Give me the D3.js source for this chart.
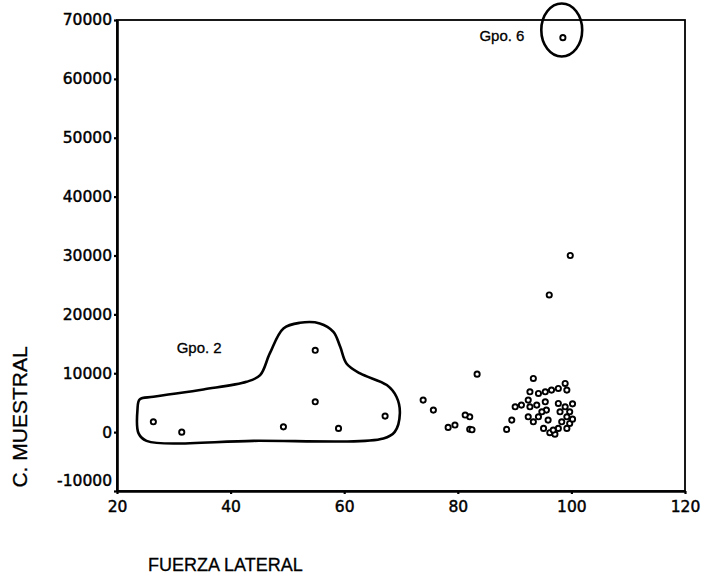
<!DOCTYPE html>
<html><head><meta charset="utf-8">
<script src="https://cdn.jsdelivr.net/npm/d3@7"></script>
<style>
html,body{margin:0;padding:0;background:#fff;}
svg{display:block;}
</style></head>
<body>
<svg id="chart" width="704" height="578"></svg>
<script>
// ---- data ----
const fuerzaLateral = [
  26.4, 31.4, 49.3, 54.9, 54.9, 59.0, 67.2,
  73.9, 75.7, 83.4, 78.3, 79.5, 82.1, 82.1, 81.3, 82.5,
  93.3, 98.9, 88.6, 89.5, 92.4, 93.3, 95.1, 96.2, 97.1, 95.6,
  92.7, 94.2, 95.4, 96.5, 97.7, 99.2, 92.4, 91.2, 90.1, 92.7,
  93.9, 95.4, 97.7, 98.9, 99.7, 98.0, 94.8, 94.2, 95.9, 98.3,
  99.7, 97.7, 99.2, 96.8, 99.2, 100.2, 100.2,
  99.8, 96.1, 98.5
];
const cMuestral = [
  1750, 0, 900, 5150, 13900, 630, 2720,
  5440, 3740, 9850, 800, 1200, 500, 2600, 2900, 400,
  9120, 8270, 460, 2040, 2600, 1750, 630, -100, -340, 3740,
  6850, 6570, 6850, 7140, 7420, 7140, 5440, 4590, 4300, 4300,
  4590, 5150, 4870, 4300, 3450, 3450, 3450, 2600, 2040, 1750,
  1470, 630, 630, 340, 2600, 4800, 2200,
  30000, 23300, 67000
];
const xTicks = [20, 40, 60, 80, 100, 120];
const yTicks = [-10000, 0, 10000, 20000, 30000, 40000, 50000, 60000, 70000];
const xTitle = "FUERZA LATERAL";
const yTitle = "C. MUESTRAL";
// group outlines (data units)
const gpo2Outline = [
  [55.7,18470],[58.1,17040],[59.3,14490],[60.4,11670],[62.8,9970],[67.5,7990],
  [69.2,6000],[69.8,3180],[68.9,50],[66.9,-1070],[44.0,-1480],[25.2,-1480],
  [23.8,-220],[23.6,3740],[24.0,5560],[26.4,6000],[35.2,7250],[42.8,8550],
  [45.2,9680],[46.9,13370],[49.3,17620],[52.2,18570]
];
const gpo6Ellipse = {cx: 98.3, cy: 68300, rx: 3.6, ry: 4500};
const groupLabels = [
  {text: "Gpo. 2", x: 30.5, y: 13500},
  {text: "Gpo. 6", x: 83.8, y: 66500}
];

// ---- chart ----
const svg = d3.select("#chart");
const x = d3.scaleLinear().domain([20, 120]).range([117, 685]);
const y = d3.scaleLinear().domain([-10000, 70000]).range([491, 20]);

// frame
svg.append("rect")
  .attr("x", x(20)).attr("y", y(70000))
  .attr("width", x(120) - x(20)).attr("height", y(-10000) - y(70000))
  .attr("fill", "none").attr("stroke", "#000").attr("stroke-width", 1.8);

const xAxis = svg.append("g")
  .attr("transform", `translate(0,${y(-10000)})`)
  .call(d3.axisBottom(x).tickValues(xTicks).tickSize(3).tickSizeOuter(0).tickPadding(7));
const yAxis = svg.append("g")
  .attr("transform", `translate(${x(20)},0)`)
  .call(d3.axisLeft(y).tickValues(yTicks).tickSize(3).tickSizeOuter(0).tickPadding(2).tickFormat(d => String(d)));

[xAxis, yAxis].forEach(g => {
  g.select(".domain").attr("stroke", "#000").attr("stroke-width", 2.6);
  g.selectAll(".tick line").attr("stroke", "#000").attr("stroke-width", 2.2);
  g.selectAll("text").attr("fill", "#000")
    .attr("stroke", "#000").attr("stroke-width", 0.45)
    .style("font-family", "'DejaVu Sans', sans-serif")
    .style("font-size", "15.5px");
});
yAxis.selectAll(".tick text").filter(d => d === -10000).attr("dy", "-0.35em");

// titles
svg.append("text")
  .attr("x", 148).attr("y", 571)
  .attr("stroke", "#000").attr("stroke-width", 0.3)
  .style("font-family", "'Liberation Sans', Arial, sans-serif")
  .style("font-size", "18px")
  .text(xTitle);
svg.append("text")
  .attr("transform", `translate(27,${417}) rotate(-90)`)
  .attr("text-anchor", "middle")
  .attr("stroke", "#000").attr("stroke-width", 0.3)
  .style("font-family", "'Liberation Sans', Arial, sans-serif")
  .style("font-size", "21px")
  .text(yTitle);

// group outlines
svg.append("path")
  .datum(gpo2Outline)
  .attr("d", d3.line().x(d => x(d[0])).y(d => y(d[1])).curve(d3.curveCatmullRomClosed.alpha(0.5)))
  .attr("fill", "none").attr("stroke", "#000").attr("stroke-width", 2.6);
svg.append("ellipse")
  .attr("cx", x(gpo6Ellipse.cx)).attr("cy", y(gpo6Ellipse.cy))
  .attr("rx", x(gpo6Ellipse.cx + gpo6Ellipse.rx) - x(gpo6Ellipse.cx))
  .attr("ry", y(gpo6Ellipse.cy - gpo6Ellipse.ry) - y(gpo6Ellipse.cy))
  .attr("fill", "none").attr("stroke", "#000").attr("stroke-width", 2.6);

svg.selectAll(".glabel").data(groupLabels).join("text")
  .attr("class", "glabel")
  .attr("x", d => x(d.x)).attr("y", d => y(d.y))
  .attr("stroke", "#000").attr("stroke-width", 0.3)
  .style("font-family", "'Liberation Sans', Arial, sans-serif")
  .style("font-size", "15px")
  .text(d => d.text);

// points
const pts = fuerzaLateral.map((v, i) => ({fx: v, cm: cMuestral[i]}));
svg.selectAll(".pt").data(pts).join("circle")
  .attr("class", "pt")
  .attr("cx", d => x(d.fx)).attr("cy", d => y(d.cm))
  .attr("r", 2.6)
  .attr("fill", "#fff").attr("stroke", "#000").attr("stroke-width", 1.9);
</script>
</body></html>
